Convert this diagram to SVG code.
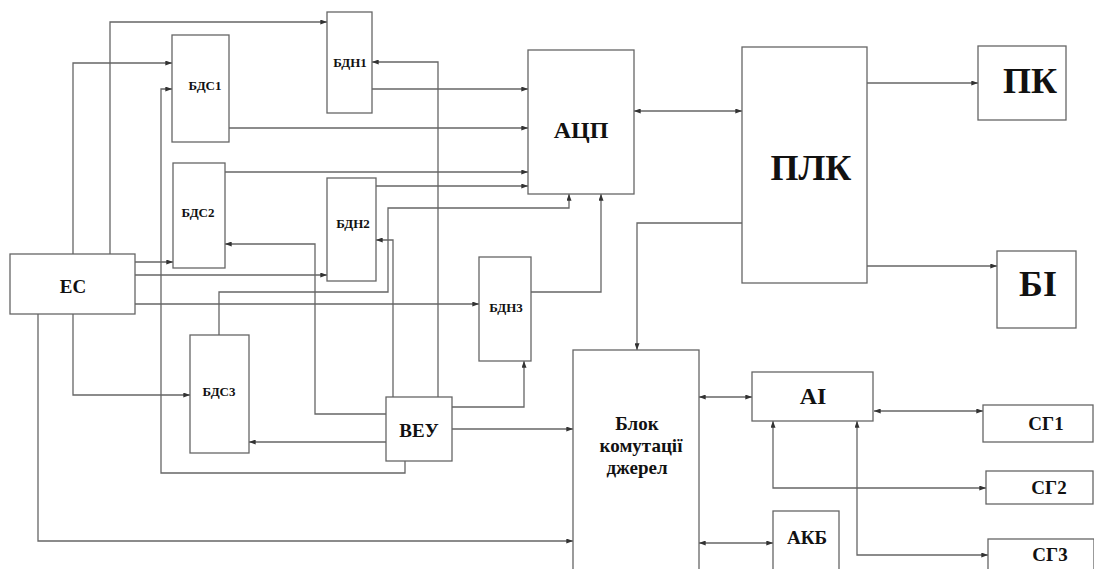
<svg xmlns="http://www.w3.org/2000/svg" width="1094" height="569" viewBox="0 0 1094 569">
<style>
.box{fill:#fff;stroke:#666;stroke-width:1.3}
.ln{fill:none;stroke:#666;stroke-width:1.3}
.t{font-family:'Liberation Serif','DejaVu Serif',serif;font-weight:700;fill:#111;text-anchor:middle}
.s{font-size:13px}
.m{font-size:19px}
.l{font-size:24px}
.xl{font-size:36px}
</style>
<defs>
<marker id="ar" viewBox="0 0 8 6" refX="8" refY="3" markerWidth="7" markerHeight="5" orient="auto" markerUnits="userSpaceOnUse">
<path d="M0,0 L8,3 L0,6 z" fill="#333"/>
</marker>
<marker id="as" viewBox="0 0 8 6" refX="0" refY="3" markerWidth="7" markerHeight="5" orient="auto" markerUnits="userSpaceOnUse">
<path d="M8,0 L0,3 L8,6 z" fill="#333"/>
</marker>
</defs>
<rect width="1094" height="569" fill="#fff"/>
<g id="connectors">
<path class="ln" d="M110,254 V22 H327" marker-end="url(#ar)"/>
<path class="ln" d="M73,254 V63 H172" marker-end="url(#ar)"/>
<path class="ln" d="M135,262 H173" marker-end="url(#ar)"/>
<path class="ln" d="M135,275 H327" marker-end="url(#ar)"/>
<path class="ln" d="M135,304 H479" marker-end="url(#ar)"/>
<path class="ln" d="M73,314 V395 H190" marker-end="url(#ar)"/>
<path class="ln" d="M38,314 V541 H573" marker-end="url(#ar)"/>
<path class="ln" d="M372,89 H528" marker-end="url(#ar)"/>
<path class="ln" d="M229,128 H528" marker-end="url(#ar)"/>
<path class="ln" d="M225,172 H528" marker-end="url(#ar)"/>
<path class="ln" d="M376,186 H528" marker-end="url(#ar)"/>
<path class="ln" d="M219,335 V292 H388 V208 H569 V194" marker-end="url(#ar)"/>
<path class="ln" d="M531,292 H601 V194" marker-end="url(#ar)"/>
<path class="ln" d="M438,397 V62 H372" marker-end="url(#ar)"/>
<path class="ln" d="M393,397 V240 H376" marker-end="url(#ar)"/>
<path class="ln" d="M386,414 H315 V244 H225" marker-end="url(#ar)"/>
<path class="ln" d="M386,442 H249" marker-end="url(#ar)"/>
<path class="ln" d="M405,461 V473 H161 V89 H172" marker-end="url(#ar)"/>
<path class="ln" d="M452,407 H524 V361" marker-end="url(#ar)"/>
<path class="ln" d="M452,429 H573" marker-end="url(#ar)"/>
<path class="ln" d="M634,111 H742" marker-start="url(#as)" marker-end="url(#ar)"/>
<path class="ln" d="M867,83 H978" marker-end="url(#ar)"/>
<path class="ln" d="M867,266 H997" marker-end="url(#ar)"/>
<path class="ln" d="M742,223 H637 V350" marker-end="url(#ar)"/>
<path class="ln" d="M699,397 H752" marker-start="url(#as)" marker-end="url(#ar)"/>
<path class="ln" d="M699,543 H773" marker-start="url(#as)" marker-end="url(#ar)"/>
<path class="ln" d="M874,411 H983" marker-start="url(#as)" marker-end="url(#ar)"/>
<path class="ln" d="M773,421 V488 H986" marker-start="url(#as)" marker-end="url(#ar)"/>
<path class="ln" d="M857,421 V555 H988" marker-start="url(#as)" marker-end="url(#ar)"/>
</g>
<g id="ES"><rect class="box" x="10" y="254" width="125" height="60"/><text class="t m" x="73" y="293">ЕС</text></g>
<g id="BDS1"><rect class="box" x="172" y="35" width="57" height="107"/><text class="t s" x="205" y="90">БДС1</text></g>
<g id="BDN1"><rect class="box" x="327" y="12" width="45" height="101"/><text class="t s" x="350" y="67">БДН1</text></g>
<g id="BDS2"><rect class="box" x="173" y="163" width="52" height="105"/><text class="t s" x="198" y="217">БДС2</text></g>
<g id="BDN2"><rect class="box" x="327" y="178" width="49" height="103"/><text class="t s" x="353" y="228">БДН2</text></g>
<g id="BDN3"><rect class="box" x="479" y="257" width="52" height="104"/><text class="t s" x="506" y="312">БДН3</text></g>
<g id="BDS3"><rect class="box" x="190" y="335" width="59" height="118"/><text class="t s" x="219" y="396">БДС3</text></g>
<g id="VEU"><rect class="box" x="386" y="397" width="66" height="64"/><text class="t m" x="419" y="437">ВЕУ</text></g>
<g id="ADC"><rect class="box" x="528" y="50" width="106" height="144"/><text class="t l" x="581" y="138">АЦП</text></g>
<g id="PLC"><rect class="box" x="742" y="47" width="125" height="236"/><text class="t xl" x="811" y="180">ПЛК</text></g>
<g id="PK"><rect class="box" x="978" y="46" width="88" height="74"/><text class="t xl" x="1030" y="93">ПК</text></g>
<g id="BI"><rect class="box" x="997" y="251" width="79" height="77"/><text class="t xl" x="1038" y="296">БІ</text></g>
<g id="BKD"><rect class="box" x="573" y="350" width="126" height="235"/><text class="t m" x="637" y="430">Блок</text><text class="t m" x="641" y="452">комутації</text><text class="t m" x="637" y="474">джерел</text></g>
<g id="AI"><rect class="box" x="752" y="372" width="121" height="49"/><text class="t l" x="813" y="404">АІ</text></g>
<g id="AKB"><rect class="box" x="773" y="511" width="66" height="70"/><text class="t m" x="807" y="544">АКБ</text></g>
<g id="SG1"><rect class="box" x="983" y="405" width="110" height="37"/><text class="t m" x="1046" y="430">СГ1</text></g>
<g id="SG2"><rect class="box" x="986" y="471" width="107" height="33"/><text class="t m" x="1049" y="494">СГ2</text></g>
<g id="SG3"><rect class="box" x="988" y="539" width="106" height="40"/><text class="t m" x="1050" y="561">СГ3</text></g>
</svg>
